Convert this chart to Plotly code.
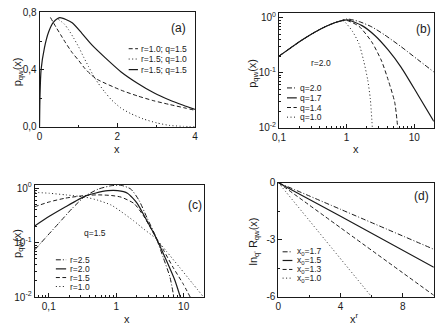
import plotly.graph_objects as go

W, H = 441, 333

# ---------------- data ----------------
# panel (a)
a_dash_x = [0.28, 0.42, 0.546, 0.672, 0.84, 1.01, 1.17, 1.34, 1.51, 2.10, 2.52, 2.94, 3.36, 3.77, 4.0]
a_dash_y = [0.765, 0.699, 0.643, 0.587, 0.519, 0.463, 0.407, 0.361, 0.328, 0.256, 0.216, 0.182, 0.155, 0.130, 0.115]
a_dot_x = [0.488, 0.63, 0.755, 0.88, 1.01, 1.13, 1.26, 1.38, 1.51, 1.68, 1.85, 2.10, 2.35, 2.68, 3.02, 3.36, 3.69, 4.0]
a_dot_y = [0.751, 0.721, 0.676, 0.620, 0.557, 0.490, 0.422, 0.361, 0.305, 0.243, 0.189, 0.130, 0.092, 0.054, 0.027, 0.009, 0.003, 0.001]
a_sol_x = [0.0, 0.012, 0.04, 0.126, 0.236, 0.36, 0.52, 0.84, 1.09, 1.34, 1.68, 2.10, 2.52, 2.94, 3.36, 3.77, 4.0]
a_sol_y = [0.0, 0.22, 0.40, 0.553, 0.665, 0.732, 0.764, 0.728, 0.654, 0.575, 0.486, 0.384, 0.305, 0.238, 0.186, 0.144, 0.121]
a_names = ["r=1.0; q=1.5", "r=1.5; q=1.0", "r=1.5; q=1.5"]

# panel (b)  r=2.0
b_common_x = [0.1, 0.15, 0.2, 0.3, 0.4, 0.5, 0.6, 0.7, 0.8]
b_common_y = [0.20, 0.285, 0.365, 0.50, 0.61, 0.70, 0.77, 0.825, 0.865]
b_q20_x = b_common_x + [1.0, 1.52, 2.36, 3.68, 6.41, 11.2, 19.5]
b_q20_y = b_common_y + [0.95, 0.853, 0.68, 0.483, 0.296, 0.174, 0.103]
b_q17_x = b_common_x + [1.03, 1.69, 2.64, 4.11, 6.41, 11.2, 19.5]
b_q17_y = b_common_y + [0.912, 0.718, 0.47, 0.259, 0.125, 0.0406, 0.013]
b_q14_x = b_common_x + [0.95, 1.52, 2.36, 3.29, 4.11, 5.14, 5.7]
b_q14_y = b_common_y + [0.91, 0.70, 0.36, 0.163, 0.074, 0.029, 0.0100]
b_q10_x = b_common_x + [0.9, 1.21, 1.52, 1.79, 2.05, 2.24, 2.40]
b_q10_y = b_common_y + [0.875, 0.574, 0.338, 0.163, 0.074, 0.0333, 0.0100]
b_names = ["q=2.0", "q=1.7", "q=1.4", "q=1.0"]

# panel (c)  q=1.5
c_r25_x = [0.0618, 0.0914, 0.143, 0.223, 0.347, 0.541, 0.847, 1.18, 1.65, 2.18, 2.87, 3.80, 5.01, 6.27, 7.16]
c_r25_y = [0.0733, 0.126, 0.232, 0.426, 0.713, 0.960, 1.11, 1.13, 0.960, 0.598, 0.284, 0.135, 0.0523, 0.0232, 0.0100]
c_r20_x = [0.0618, 0.102, 0.178, 0.347, 0.485, 0.755, 1.055, 1.47, 2.06, 2.87, 3.80, 5.60, 7.41, 8.93]
c_r20_y = [0.202, 0.304, 0.456, 0.713, 0.806, 0.898, 0.898, 0.806, 0.522, 0.248, 0.131, 0.0457, 0.0203, 0.0100]
c_r15_x = [0.0618, 0.102, 0.178, 0.347, 0.541, 0.847, 1.18, 1.84, 2.57, 3.80, 5.01, 7.00, 9.77, 12.5]
c_r15_y = [0.456, 0.559, 0.657, 0.733, 0.753, 0.733, 0.685, 0.522, 0.304, 0.131, 0.0733, 0.0348, 0.0177, 0.0100]
c_r10_x = [0.0618, 0.102, 0.178, 0.347, 0.541, 0.847, 1.18, 1.84, 2.57, 3.80, 5.60, 8.75, 13.6, 19.0]
c_r10_y = [0.839, 0.806, 0.753, 0.685, 0.598, 0.488, 0.372, 0.248, 0.177, 0.121, 0.0685, 0.0348, 0.0177, 0.0106]
c_names = ["r=2.5", "r=2.0", "r=1.5", "r=1.0"]

# panel (d)
d_17_x, d_17_y = [0, 4, 10], [0, -1.40, -3.50]
d_15_x, d_15_y = [0, 4, 10], [0, -1.76, -4.45]
d_13_x, d_13_y = [0, 4, 10], [0, -2.37, -5.92]
d_10_x, d_10_y = [0, 3, 6], [0, -3.0, -6.0]
d_names = ["x<sub>0</sub>=1.7", "x<sub>0</sub>=1.5", "x<sub>0</sub>=1.3", "x<sub>0</sub>=1.0"]

lin_x_ticks_a = [0, 2, 4]
lin_y_ticks_a = [0.0, 0.4, 0.8]
lin_y_text_a = ["0,0", "0,4", "0,8"]
log_x_ticks = [0.1, 1, 10]
log_x_text = ["0,1", "1", "10"]
log_y_ticks = [0.01, 0.1, 1]
log_y_text = ["10<sup>-2</sup>", "10<sup>-1</sup>", "10<sup>0</sup>"]
log_minor = [m * 10 ** e for e in (-2, -1, 0, 1) for m in range(2, 10)]
d_x_ticks = [0, 4, 8]
d_y_ticks = [-6, -3, 0]
d_y_text = ["-6", "-3", "0"]

# ---------------- styling ----------------
FONT = "Liberation Sans, Arial, sans-serif"
INK = "#1a1a1a"
DASH = "4px,2.5px"
DOT = "1px,2.5px"
DASHDOT = "5px,2px,1px,2px"
SOLID = "solid"


def X(px):
    return px / W


def Y(py):
    return 1 - py / H


fig = go.Figure()


def add(xs, ys, dash, ax, width=1.0):
    fig.add_trace(go.Scatter(
        x=xs, y=ys, mode="lines", xaxis="x" + ax, yaxis="y" + ax,
        line=dict(color=INK, width=width, dash=dash, shape="spline", smoothing=0.6),
        showlegend=False, hoverinfo="skip"))


add(a_dash_x, a_dash_y, DASH, "")
add(a_dot_x, a_dot_y, DOT, "")
add(a_sol_x, a_sol_y, SOLID, "", 1.2)

add(b_q20_x, b_q20_y, DASHDOT, "2")
add(b_q17_x, b_q17_y, SOLID, "2", 1.2)
add(b_q14_x, b_q14_y, DASH, "2")
add(b_q10_x, b_q10_y, DOT, "2")

add(c_r25_x, c_r25_y, DASHDOT, "3")
add(c_r20_x, c_r20_y, SOLID, "3", 1.2)
add(c_r15_x, c_r15_y, DASH, "3")
add(c_r10_x, c_r10_y, DOT, "3")

add(d_17_x, d_17_y, DASHDOT, "4")
add(d_15_x, d_15_y, SOLID, "4", 1.2)
add(d_13_x, d_13_y, DASH, "4")
add(d_10_x, d_10_y, DOT, "4")

tickfont = dict(family=FONT, size=10, color=INK)


def axis(domain, rng, tickvals, ticktext=None, typ="linear", anchor=None, minor_dtick=None):
    d = dict(domain=domain, range=rng, type=typ, anchor=anchor,
             tickmode="array", tickvals=tickvals, ticktext=ticktext, ticks="inside", ticklen=4,
             tickwidth=1, tickcolor=INK, showline=True, linecolor=INK, linewidth=1,
             mirror=True, showgrid=False, zeroline=False, tickfont=tickfont,
             fixedrange=True)
    if typ == "log":
        d["minor"] = dict(ticks="inside", ticklen=2, tickcolor=INK, showgrid=False,
                          tickmode="array", tickvals=log_minor)
    elif minor_dtick is not None:
        d["minor"] = dict(ticks="inside", ticklen=2, tickcolor=INK, showgrid=False,
                          dtick=minor_dtick, tick0=0)
    return d


fig.update_layout(
    width=W, height=H, autosize=False,
    margin=dict(l=0, r=0, t=0, b=0),
    paper_bgcolor="white", plot_bgcolor="white",
    xaxis=axis([X(33.3), X(192.3)], [0, 4], lin_x_ticks_a, anchor="y", minor_dtick=1),
    yaxis=axis([Y(125.3), Y(6.7)], [0, 0.8], lin_y_ticks_a, lin_y_text_a, anchor="x", minor_dtick=0.2),
    xaxis2=axis([X(278.3), X(436.7)], [-1, 1.289], log_x_ticks, log_x_text, "log", "y2"),
    yaxis2=axis([Y(126.2), Y(7)], [-2, 0.09], log_y_ticks, log_y_text, "log", "x2"),
    xaxis3=axis([X(28.3), X(201.7)], [-1.209, 1.304], log_x_ticks, log_x_text, "log", "y3"),
    yaxis3=axis([Y(301.9), Y(185.7)], [-2, 0.058], log_y_ticks, log_y_text, "log", "x3"),
    xaxis4=axis([X(277.7), X(436.7)], [0, 10], d_x_ticks, anchor="y4", minor_dtick=2),
    yaxis4=axis([Y(301.7), Y(183.3)], [-6, 0], d_y_ticks, d_y_text, anchor="x4", minor_dtick=1.5),
)

ann = []


def text(px, py, s, size=11, angle=0, xanchor="center"):
    ann.append(dict(x=X(px), y=Y(py), xref="paper", yref="paper", text=s,
                    showarrow=False, xanchor=xanchor, yanchor="middle", textangle=angle,
                    font=dict(family=FONT, size=size, color=INK)))


# axis titles
text(11, 68, "p<sub>qw</sub>(x)", 11, -90)
text(112.7, 148, "x", 11)
text(252, 70, "p<sub>qw</sub>(x)", 11, -90)
text(357.3, 148.5, "x", 11)
text(11, 246, "p<sub>qw</sub>(x)", 11, -90)
text(122.7, 325, "x", 11)
text(253, 244, "ln<sub>q'</sub> R<sub>qw</sub>(x)", 11, -90)
text(356, 324, "x<sup>r</sup>", 11)

# panel labels
text(175, 23, "(a)", 12)
text(426.3, 24, "(b)", 12)
text(192.5, 206, "(c)", 12)
text(423.7, 197, "(d)", 12)

# inner annotations
text(321, 59.3, "r=2.0", 8.5)
text(90, 235, "q=1.5", 8.5)

shapes = []


def legend(entries, styles, x0, x1, xt, ys):
    for name, st, yy in zip(entries, styles, ys):
        shapes.append(dict(type="line", xref="paper", yref="paper",
                           x0=X(x0), x1=X(x1), y0=Y(yy), y1=Y(yy),
                           line=dict(color=INK, width=1.2 if st == SOLID else 1.0, dash=st)))
        text(xt, yy, name, 8.5, 0, "left")


legend(a_names, [DASH, DOT, SOLID], 124.5, 134, 135, [44.3, 55, 66])
legend(b_names, [DASHDOT, SOLID, DASH, DOT], 286.5, 296.5, 298, [85, 95.3, 105.3, 115.3])
legend(c_names, [DASHDOT, SOLID, DASH, DOT], 50, 60.5, 62.5, [263.3, 272.7, 281.7, 291])
legend(d_names, [DASHDOT, SOLID, DASH, DOT], 282, 292, 294.5, [255, 264, 273.3, 282.3])

fig.update_layout(annotations=ann, shapes=shapes)
fig.write_html("out.html")
